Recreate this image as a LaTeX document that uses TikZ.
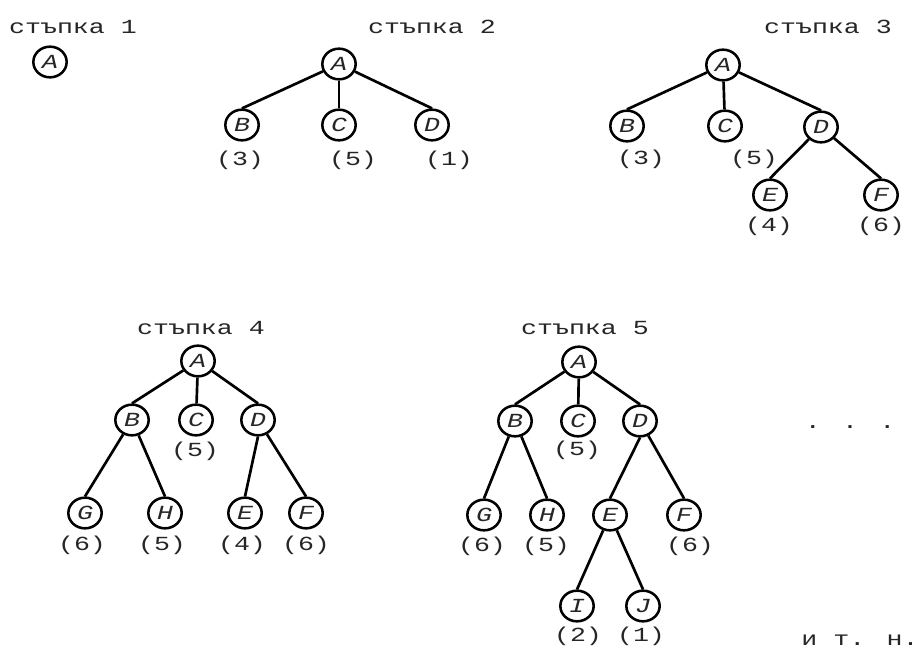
\documentclass[tikz,border=0pt]{standalone}
\usepackage{fontspec}
\newfontfamily\monofnt[FakeStretch=1.33]{Liberation Mono}
\usetikzlibrary{shapes.geometric}
\tikzset{
  vert/.style={ellipse, draw, line width=1.9pt, minimum width=25pt, minimum height=23pt,
    inner sep=0pt, font=\monofnt\itshape\fontsize{15pt}{15pt}\selectfont, text=black!85},
  lbl/.style={anchor=base, inner sep=0pt, font=\monofnt\fontsize{15pt}{15pt}\selectfont, text=black!85},
  edge/.style={line width=2pt},
}
\begin{document}
\begin{tikzpicture}[x=0.75pt, y=-0.75pt]
\useasboundingbox (0,0) rectangle (917,648);
% step 1
\node[lbl] (t1) at (73,34) {стъпка 1};
\node[vert] (s1a) at (50,62) {A};
% step 2
\node[lbl] (t2) at (432,34) {стъпка 2};
\node[vert] (s2a) at (339,64) {A};
\node[vert] (s2b) at (242,125) {B};
\node[vert] (s2c) at (339,125) {C};
\node[vert] (s2d) at (432,125) {D};
\node[lbl] (l2b) at (240,166) {(3)};
\node[lbl] (l2c) at (353,166) {(5)};
\node[lbl] (l2d) at (449,166) {(1)};
\draw[edge] (s2a) -- (s2b.north);
\draw[edge] (s2a) -- (s2c);
\draw[edge] (s2a) -- (s2d.north);
% step 3
\node[lbl] (t3) at (828,34) {стъпка 3};
\node[vert] (s3a) at (723,65) {A};
\node[vert] (s3b) at (627,126) {B};
\node[vert] (s3c) at (725,126) {C};
\node[vert] (s3d) at (821,127) {D};
\node[vert] (s3e) at (770,195) {E};
\node[vert] (s3f) at (881,195) {F};
\node[lbl] (l3b) at (641,165) {(3)};
\node[lbl] (l3c) at (754,165) {(5)};
\node[lbl] (l3e) at (769,232) {(4)};
\node[lbl] (l3f) at (881,232) {(6)};
\draw[edge] (s3a) -- (s3b.north);
\draw[edge] (s3a) -- (s3c);
\draw[edge] (s3a) -- (s3d.north);
\draw[edge] (s3d) -- (s3e.north);
\draw[edge] (s3d) -- (s3f.north);
% step 4
\node[lbl] (t4) at (201,335) {стъпка 4};
\node[vert] (s4a) at (198,361) {A};
\node[vert] (s4b) at (132,420) {B};
\node[vert] (s4c) at (196,420) {C};
\node[vert] (s4d) at (258,420) {D};
\node[vert] (s4g) at (85,513) {G};
\node[vert] (s4h) at (165,513) {H};
\node[vert] (s4e) at (245,513) {E};
\node[vert] (s4f) at (306,513) {F};
\node[lbl] (l4c) at (195,456) {(5)};
\node[lbl] (l4g) at (82,550) {(6)};
\node[lbl] (l4h) at (162,550) {(5)};
\node[lbl] (l4e) at (242,550) {(4)};
\node[lbl] (l4f) at (306,550) {(6)};
\draw[edge] (s4a) -- (s4b.north);
\draw[edge] (s4a) -- (s4c);
\draw[edge] (s4a) -- (s4d.north);
\draw[edge] (s4b) -- (s4g.north);
\draw[edge] (s4b) -- (s4h.north);
\draw[edge] (s4d.south) -- (s4e.north);
\draw[edge] (s4d) -- (s4f.north);
% step 5
\node[lbl] (t5) at (585,335) {стъпка 5};
\node[vert] (s5a) at (579,362) {A};
\node[vert] (s5b) at (515,421) {B};
\node[vert] (s5c) at (578,421) {C};
\node[vert] (s5d) at (640,421) {D};
\node[vert] (s5g) at (484,515) {G};
\node[vert] (s5h) at (547,515) {H};
\node[vert] (s5e) at (610,515) {E};
\node[vert] (s5f) at (684,515) {F};
\node[vert] (s5i) at (577,606) {I};
\node[vert] (s5j) at (643,606) {J};
\node[lbl] (l5c) at (577,455) {(5)};
\node[lbl] (l5g) at (482,551) {(6)};
\node[lbl] (l5h) at (546,551) {(5)};
\node[lbl] (l5f) at (690,551) {(6)};
\node[lbl] (l5i) at (578,641) {(2)};
\node[lbl] (l5j) at (641,641) {(1)};
\draw[edge] (s5a) -- (s5b.north);
\draw[edge] (s5a) -- (s5c);
\draw[edge] (s5a) -- (s5d.north);
\draw[edge] (s5b) -- (s5g.north);
\draw[edge] (s5b) -- (s5h.north);
\draw[edge] (s5d.south) -- (s5e.north);
\draw[edge] (s5d) -- (s5f.north);
\draw[edge] (s5e) -- (s5i.north);
\draw[edge] (s5e) -- (s5j.north);
% trailing
\node[lbl] (dots) at (850,428) {. . .};
\node[lbl] (etc) at (860,645) {и т. н.};
\end{tikzpicture}
\end{document}
